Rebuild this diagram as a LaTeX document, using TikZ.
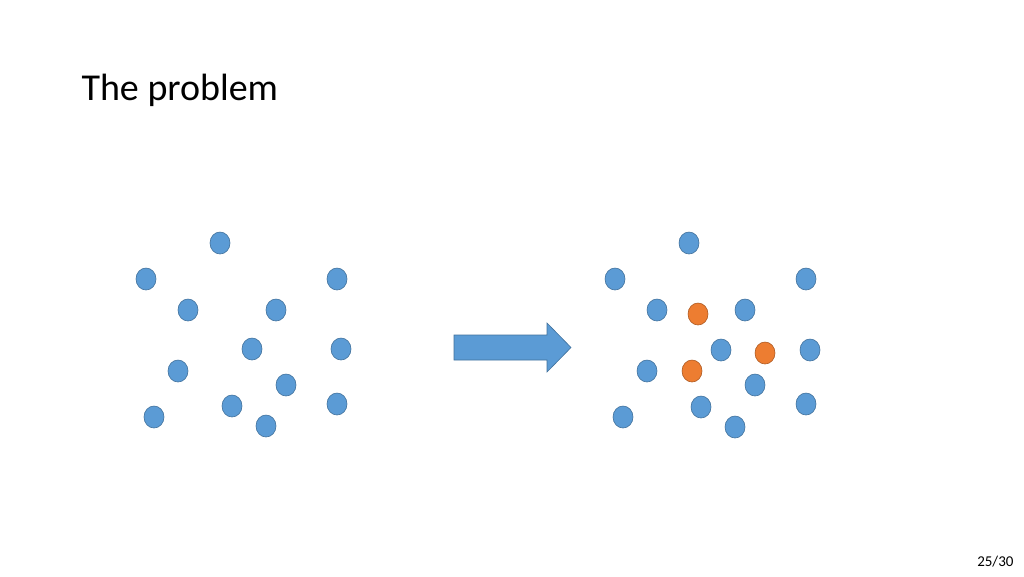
\documentclass[tikz,border=0pt]{standalone}
\usepackage{fontspec}
\setmainfont{Carlito}
\usetikzlibrary{shapes.geometric,shapes.arrows}
\definecolor{bluef}{HTML}{5B9BD5}
\definecolor{blued}{HTML}{41719C}
\definecolor{orangef}{HTML}{ED7D31}
\definecolor{oranged}{HTML}{AE5A21}
\begin{document}
\begin{tikzpicture}[x=1pt,y=-1pt,
  bdot/.style={ellipse,draw=blued,fill=bluef,line width=0.6pt,minimum width=20pt,minimum height=22pt,inner sep=0pt},
  odot/.style={ellipse,draw=oranged,fill=orangef,line width=0.6pt,minimum width=20pt,minimum height=22pt,inner sep=0pt}]
\useasboundingbox (0,0) rectangle (1024,576);
\fill[white] (0,0) rectangle (1024,576);
\node[anchor=base west,font=\fontsize{38}{44}\selectfont\addfontfeature{}] (title) at (78,100) {The problem};
\node[anchor=base east,font=\fontsize{15}{18}\selectfont] (page) at (1017,566) {25/30};
\foreach \x/\y [count=\i] in {220/243,146/279,337/279,188/310,276/310,252/349,341/349,178/371,286/385,154/417,232/406,337/404,266/426}
  \node[bdot] (l\i) at (\x,\y) {};
\foreach \x/\y [count=\i] in {689/243,615/279,806/279,657/310,745/310,721/350,810/350,647/371,755/385,623/417,701/407,806/404,735/427}
  \node[bdot] (r\i) at (\x,\y) {};
\foreach \x/\y [count=\i] in {698/314,765/353,692/371}
  \node[odot] (o\i) at (\x,\y) {};
\draw[draw=blued,fill=bluef,line width=0.6pt] (454,335) -- (547,335) -- (547,323) -- (571,347.5) -- (547,372) -- (547,360) -- (454,360) -- cycle;
\end{tikzpicture}
\end{document}
